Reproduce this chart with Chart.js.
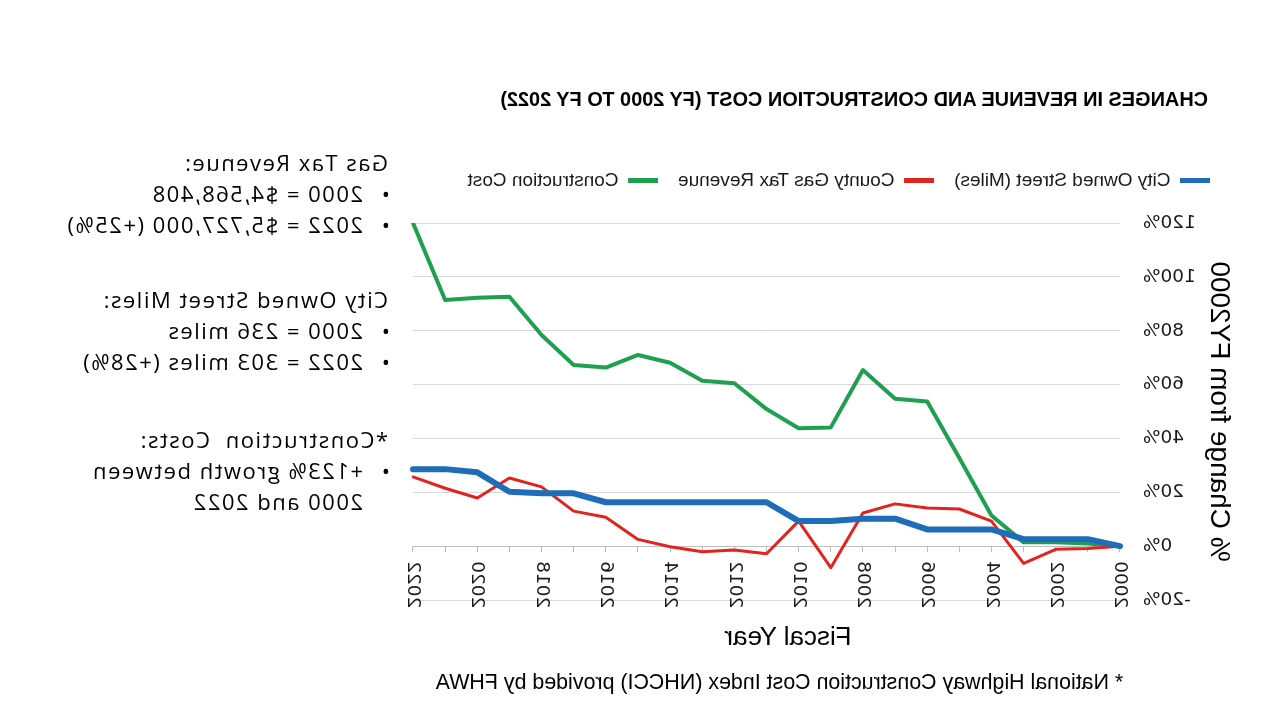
<!DOCTYPE html>
<html>
<head>
<meta charset="utf-8">
<title>Changes in revenue and construction cost</title>
<script src="https://cdn.jsdelivr.net/npm/chart.js@4.4.0/dist/chart.umd.min.js"></script>
<style>
  html, body { margin: 0; padding: 0; background: #fff; }
  /* the reference picture is a mirror image, so the whole stage is flipped */
  #stage { position: relative; width: 1280px; height: 720px; overflow: hidden; transform: scaleX(-1); }
  #chart { position: absolute; left: 0; top: 0; }
  .txt { position: absolute; white-space: nowrap; color: #000; font-family: "Liberation Sans", Arial, sans-serif; }
  #title { left: 72px; top: 90px; font-size: 19.9px; line-height: 19.9px; font-weight: bold; }
  #xtitle { left: 392px; width: 200px; top: 623px; font-size: 26px; line-height: 26px; text-align: center; }
  #note { left: 100px; width: 801px; top: 672px; font-size: 21.4px; line-height: 21px; text-align: center; }
  .block { position: absolute; left: 892px; font-family: "Open Sans", sans-serif; font-size: 22px; line-height: 31px; letter-spacing: 1.5px; color: #000; white-space: nowrap; }
  .block .b { position: relative; padding-left: 25px; }
  .block .b::before { content: "\2022"; position: absolute; left: -2px; }
  .block .c { padding-left: 25px; }
</style>
</head>
<body>
<div id="stage">
  <canvas id="chart" width="900" height="720"></canvas>
  <div class="txt" id="title">CHANGES IN REVENUE AND CONSTRUCTION COST (FY 2000 TO FY 2022)</div>
  <div class="txt" id="xtitle">Fiscal Year</div>
  <div class="txt" id="note">* National Highway Construction Cost Index (NHCCI) provided by FHWA</div>

  <div class="block" style="top:147px">
    <div>Gas Tax Revenue:</div>
    <div class="b">2000 = $4,568,408</div>
    <div class="b">2022 = $5,727,000 (+25%)</div>
  </div>
  <div class="block" style="top:284px">
    <div>City Owned Street Miles:</div>
    <div class="b">2000 = 236 miles</div>
    <div class="b">2022 = 303 miles (+28%)</div>
  </div>
  <div class="block" style="top:424px">
    <div>*Construction&nbsp; Costs:</div>
    <div class="b">+123% growth between</div>
    <div class="c">2000 and 2022</div>
  </div>
</div>

<script>
// fiscal years on the x axis
const years = ["2000", "2001", "2002", "2003", "2004", "2005", "2006", "2007", "2008", "2009", "2010", "2011",
  "2012", "2013", "2014", "2015", "2016", "2017", "2018", "2019", "2020", "2021", "2022"];

// % change from FY2000
const street_miles = [0, 2.6, 2.6, 2.6, 6.2, 6.2, 6.2, 10.2, 10.2, 9.3, 9.3, 16.3,
  16.3, 16.3, 16.3, 16.3, 16.3, 19.6, 19.6, 20.2, 27.4, 28.6, 28.6];
const gas_tax = [0, -0.9, -1.2, -6.4, 9.3, 13.8, 14.2, 15.7, 12.3, -8.0, 9.3, -2.8,
  -1.4, -2.1, -0.2, 2.5, 10.7, 13.0, 22.0, 25.3, 17.9, 21.5, 25.7];
const construction = [0, 1.0, 1.4, 1.4, 11.4, 32.7, 53.7, 54.7, 65.4, 44.1, 43.8, 50.9,
  60.5, 61.4, 68.1, 71.0, 66.3, 67.3, 78.4, 92.6, 92.2, 91.4, 120];

const series_names = ["City Owned Street (Miles)", "County Gas Tax Revenue", "Construction Cost"];
const y_ticks = { min: -20, max: 120, step: 20 };

const ctx = document.getElementById("chart").getContext("2d");
const tick_font = { family: '"DejaVu Sans", sans-serif', size: 18.5 };

new Chart(ctx, {
  type: "line",
  data: {
    labels: years,
    datasets: [
      { label: series_names[0], data: street_miles, borderColor: "#1f6cb9", backgroundColor: "#1f6cb9", borderWidth: 6 },
      { label: series_names[1], data: gas_tax, borderColor: "#e2231e", backgroundColor: "#e2231e", borderWidth: 3 },
      { label: series_names[2], data: construction, borderColor: "#1fa04f", backgroundColor: "#1fa04f", borderWidth: 4 },
    ],
  },
  options: {
    responsive: false,
    animation: false,
    layout: { padding: { left: 50, right: 33, top: 151, bottom: 120 } },
    elements: {
      point: { radius: 0, hoverRadius: 0 },
      line: { tension: 0, borderJoinStyle: "round", borderCapStyle: "round" },
    },
    plugins: {
      tooltip: { enabled: false },
      legend: {
        align: "start",
        labels: {
          font: { family: '"Liberation Sans", Arial, sans-serif', size: 19 },
          color: "#1a1a1a",
          padding: 20,
          usePointStyle: true,
          pointStyle: "line",
          pointStyleWidth: 30,
          generateLabels: (chart) =>
            Chart.defaults.plugins.legend.labels.generateLabels(chart).map((item) => Object.assign(item, { lineWidth: 5, lineCap: "butt" })),
        },
      },
      // empty subtitle below the legend, only there to leave a gap above the plot
      subtitle: {
        display: true,
        text: "",
        weight: 500,
        padding: 0,
        font: { size: 23, lineHeight: 1 },
      },
    },
    scales: {
      x: {
        position: { y: 0 },
        grid: { drawOnChartArea: false, drawTicks: true, tickLength: 5, color: "#bfbfbf" },
        border: { display: true, color: "#bfbfbf" },
        ticks: {
          autoSkip: false,
          minRotation: 90,
          maxRotation: 90,
          padding: 10,
          color: "#1a1a1a",
          font: tick_font,
          callback: (value, index) => (index % 2 === 0 ? years[index] : ""),
        },
      },
      y: {
        min: y_ticks.min,
        max: y_ticks.max,
        grid: { color: "#d9d9d9", drawTicks: false },
        border: { display: false },
        ticks: { stepSize: y_ticks.step, padding: 23, color: "#1a1a1a", font: tick_font, callback: (v) => v + "%" },
        title: {
          display: true,
          text: "% Change from FY2000",
          color: "#000",
          padding: 0,
          font: { family: '"Liberation Sans", Arial, sans-serif', size: 28, lineHeight: 0.8 },
        },
        afterFit: (scale) => {
          scale.width = 110;
        },
      },
    },
  },
});
</script>
</body>
</html>
